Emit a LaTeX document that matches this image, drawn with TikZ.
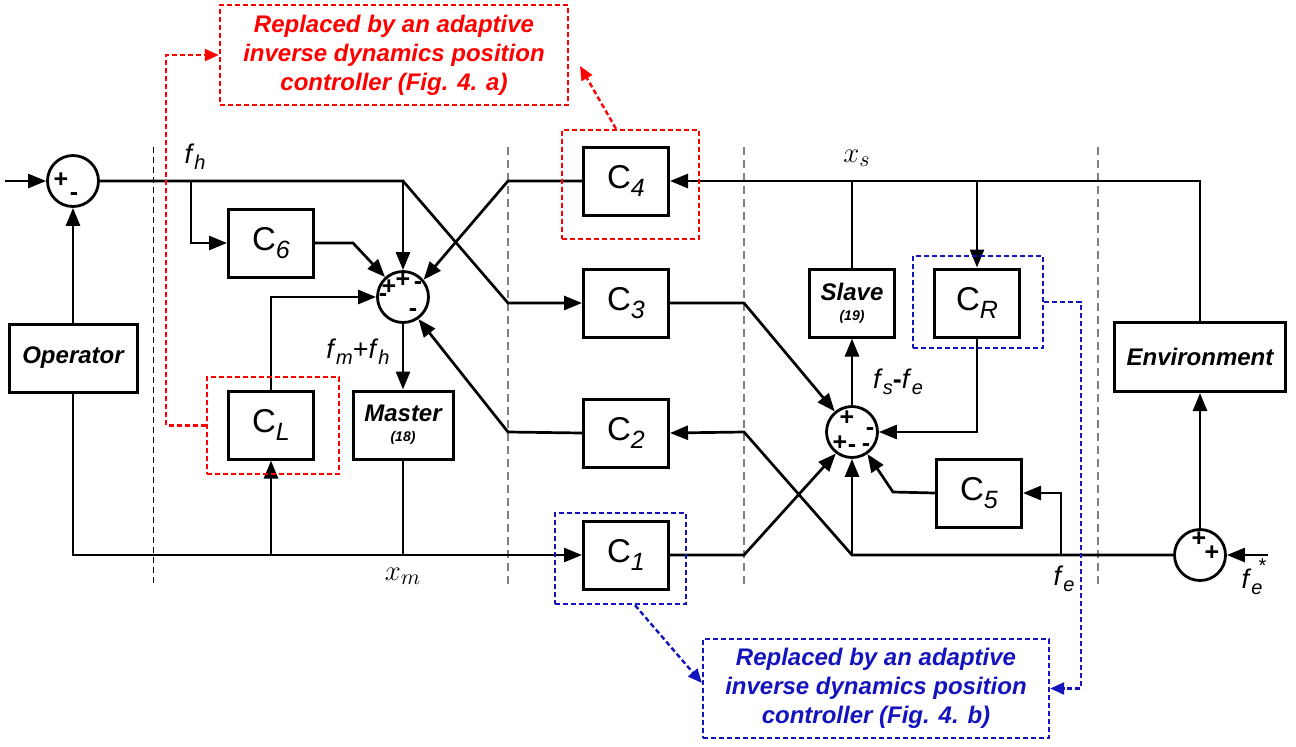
\documentclass[tikz,border=0pt]{standalone}
\usepackage{fontspec}
\setmainfont{Liberation Sans}
\usetikzlibrary{arrows.meta,positioning}
\definecolor{noteblue}{RGB}{20,20,190}
\newcommand{\csub}[2]{#1\raisebox{-4pt}{\fontsize{12.5}{12.5}\selectfont\itshape #2}}
\newcommand{\fsub}[1]{\textit{f}\raisebox{-3pt}{\fontsize{10}{10}\selectfont\itshape #1}}
\newcommand{\plantfont}{\fontsize{12}{13}\selectfont\bfseries\itshape}
\newcommand{\eqnum}[1]{{\fontsize{7}{8}\selectfont\bfseries\itshape (#1)}}

\begin{document}
\begin{tikzpicture}[x=0.5pt,y=-0.5pt,
  blk/.style={draw,line width=1.5pt,minimum width=42.5pt,minimum height=34pt,
    inner sep=0pt,align=center,font=\fontsize{16.5}{16.5}\selectfont},
  plant/.style={blk,font=\plantfont},
  sumj/.style={draw,circle,line width=1.4pt,minimum size=25.5pt,inner sep=0pt},
  sgn/.style={inner sep=0pt,font=\fontsize{12.5}{12.5}\selectfont\bfseries},
  wire/.style={line width=1.35pt},
  arrow/.style={wire,-{Triangle[length=9pt,width=7pt]}},
  lbl/.style={inner sep=0pt,font=\fontsize{13.5}{13.5}\selectfont},
  divider/.style={gray,line width=0.6pt,dash pattern=on 4pt off 2.5pt},
  redframe/.style={draw=red,line width=1.2pt,dash pattern=on 2.5pt off 1.5pt},
  blueframe/.style={draw=noteblue,line width=1.2pt,dash pattern=on 2.5pt off 1.5pt},
  redlink/.style={red,line width=1.2pt,dash pattern=on 2.5pt off 1.5pt,
    -{Triangle[length=7pt,width=6pt]}},
  bluelink/.style={noteblue,line width=1.2pt,dash pattern=on 2.5pt off 1.5pt,
    -{Triangle[length=7pt,width=6pt]}},
  note/.style={align=center,inner sep=0pt,font=\fontsize{12}{14.5}\selectfont\bfseries\itshape}
  ]
\useasboundingbox (0,0) rectangle (1296,746);

% Dividers between operator, master, channel, slave and environment
\draw[divider,black,line width=0.5pt,dash pattern=on 3pt off 2pt] (153,147) -- (153,585);
\foreach \xd in {508,744,1098}
  \draw[divider] (\xd,147) -- (\xd,585);

% Operator
\node[sumj] (opsum) at (73,181) {};
\node[sgn] at (61,180) {+};
\node[sgn] at (74,197) {-};
\node[plant,minimum width=64pt] (op) at (73,358) {Operator};

% Master side
\node[blk] (c6) at (271,243) {\csub{C}{6}};
\node[blk] (cl) at (271,425) {\csub{C}{L}};
\node[sumj] (msum) at (403,297) {};
\node[sgn] at (403,280) {+};
\node[sgn] at (389,287) {+};
\node[sgn] at (418,286) {-};
\node[sgn] at (383,298) {-};
\node[sgn] at (413,313) {-};
\node[plant,minimum width=50pt] (master) at (403,425) {Master\\[-3pt]\eqnum{18}};

% Communication channel
\node[blk] (c4) at (626,181) {\csub{C}{4}};
\node[blk] (c3) at (626,303) {\csub{C}{3}};
\node[blk] (c2) at (626,433) {\csub{C}{2}};
\node[blk] (c1) at (626,555) {\csub{C}{1}};

% Slave side
\node[plant] (slave) at (852,303) {Slave\\[-3pt]\eqnum{19}};
\node[blk] (cr) at (977,303) {\csub{C}{R}};
\node[sumj] (ssum) at (852,432) {};
\node[sgn] at (847,418) {+};
\node[sgn] at (870,432) {-};
\node[sgn] at (840,443) {+};
\node[sgn] at (852,449) {-};
\node[sgn] at (866,448) {-};
\node[blk] (c5) at (979,493) {\csub{C}{5}};

% Environment
\node[plant,minimum width=85.5pt,minimum height=34.5pt] (env) at (1200,357) {Environment};
\node[sumj] (esum) at (1200,555) {};
\node[sgn] at (1199,539) {+};
\node[sgn] at (1212,553) {+};

% Operator loop and master connections
\coordinate (fin) at (5,181);
\coordinate (jfh) at (191,181);
\coordinate (jtop) at (403,181);
\coordinate (jc3) at (508,303);
\coordinate (jc6) at (353,243);
\coordinate (jc4) at (508,181);
\coordinate (jc2) at (508,432);
\coordinate (jcl) at (271,555);
\draw[arrow] (fin) -- (opsum.west);
\draw[arrow] (op.north) -- (opsum.south);
\draw[arrow] (opsum.east) -- (jtop) -- (jc3) -- (c3.west);
\draw[arrow] (jtop) -- (msum.north);
\draw[arrow] (jfh) |- (c6.west);
\draw[arrow] (c6.east) -- (jc6) -- (msum.132);
\draw[arrow] (c4.west) -- (jc4) -- (msum.40);
\draw[arrow] (cl.north) |- (msum.west);
\draw[arrow] (c2.west) -- (jc2) -- (msum.-55);
\draw[arrow] (msum.south) -- (master.north);
\draw[arrow] (op.south) |- (c1.west);
\draw[arrow] (jcl) -- (cl.south);
\draw[wire] (master.south) -- (master.south |- jcl);

% Slave and environment connections
\coordinate (jc1) at (744,555);
\coordinate (jc3b) at (744,303);
\coordinate (jxs) at (852,181);
\coordinate (jcr) at (977,181);
\coordinate (jfe) at (852,555);
\coordinate (jc2b) at (744,432);
\coordinate (jc5) at (1061,555);
\coordinate (jc5b) at (893,492);
\coordinate (fein) at (1268,555);
\draw[arrow] (c1.east) -- (jc1) -- (ssum.233);
\draw[arrow] (c3.east) -- (jc3b) -- (ssum.130);
\draw[arrow] (ssum.north) -- (slave.south);
\draw[arrow] (env.north) |- (c4.east);
\draw[wire] (slave.north) -- (jxs);
\draw[arrow] (jcr) -- (cr.north);
\draw[arrow] (cr.south) |- (ssum.east);
\draw[arrow] (esum.west) -- (jfe) -- (jc2b) -- (c2.east);
\draw[arrow] (jfe) -- (ssum.south);
\draw[arrow] (jc5) |- (c5.east);
\draw[arrow] (c5.west) -- (jc5b) -- (ssum.-55);
\draw[arrow] (esum.north) -- (env.south);
\draw[arrow] (fein) -- (esum.east);

% Signal labels
\node[lbl] at (195,157) {\fsub{h}};
\node[lbl,font=\fontsize{15}{15}\selectfont] at (857,158) {$x_s$};
\node[lbl] at (358,352) {\fsub{m}+\fsub{h}};
\node[lbl,font=\fontsize{15}{15}\selectfont] at (403,576) {$x_m$};
\node[lbl] at (898,382) {\fsub{s}\textbf{-}\fsub{e}};
\node[lbl] at (1064,579) {\fsub{e}};
\node[lbl] at (1254,577) {\fsub{e}\kern-2pt\raisebox{8pt}{\fontsize{10}{10}\selectfont *}};

% Replaced blocks (red: Fig. 4 a, blue: Fig. 4 b)
\node[redframe,minimum width=66pt,minimum height=48.5pt] (clframe) at (273,425.5) {};
\node[redframe,minimum width=68.5pt,minimum height=54.5pt] (c4frame) at (630.5,184.5) {};
\node[blueframe,minimum width=65pt,minimum height=46pt] (crframe) at (978,302) {};
\node[blueframe,minimum width=65.5pt,minimum height=45.5pt] (c1frame) at (620.5,558.5) {};
\node[note,redframe,text=red,minimum width=174pt,minimum height=50pt] (notea) at (394,55)
  {Replaced by an adaptive\\inverse dynamics position\\controller (Fig. 4. a)};
\node[note,blueframe,text=noteblue,minimum width=173pt,minimum height=49.5pt] (noteb) at (876,688.5)
  {Replaced by an adaptive\\inverse dynamics position\\controller (Fig. 4. b)};
\coordinate (tipa) at (580,66);
\draw[redlink] (clframe.west) -- (166,425.5) |- (notea.west);
\draw[redlink] (c4frame.north -| 616,0) -- (tipa);
\draw[bluelink] (c1frame.south -| 635,0) -- (noteb.west |- 0,683);
\draw[bluelink] (crframe.east) -- (1081,302) |- (noteb.east);

\end{tikzpicture}
\end{document}
